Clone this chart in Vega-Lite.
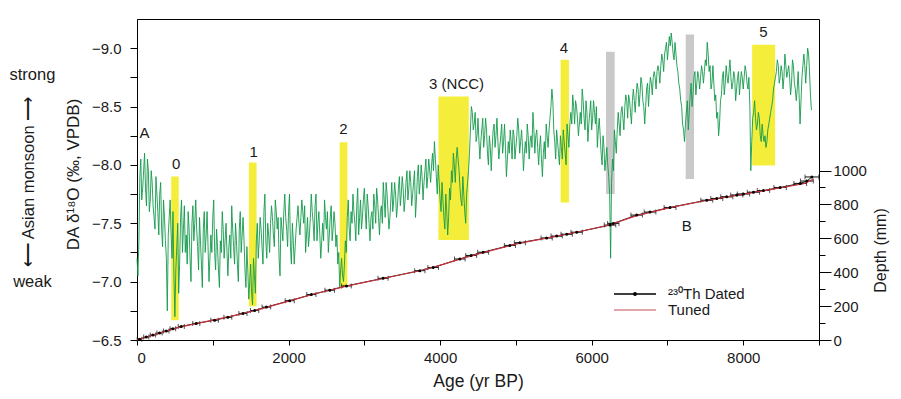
{
"$schema":"https://vega.github.io/schema/vega-lite/v6.json",
"width":682,"height":321,"autosize":"none",
"padding":{"left":137,"top":19,"right":82,"bottom":59},
"config":{"font":"Liberation Sans","view":{"stroke":"#000","strokeWidth":1},
"axis":{"domainColor":"#000","tickColor":"#000","labelColor":"#1a1a1a","titleColor":"#1a1a1a","labelFontSize":15,"titleFontWeight":"normal","grid":false}},
"datasets":{
"green":[
{"age":0,"d18O":-7.20},{"age":25,"d18O":-7.35},{"age":50,"d18O":-8.05},{"age":75,"d18O":-7.80},{"age":100,"d18O":-8.10},{"age":125,"d18O":-7.65},{"age":150,"d18O":-7.95},{"age":175,"d18O":-7.70},{"age":200,"d18O":-7.85},{"age":225,"d18O":-7.55},
{"age":250,"d18O":-7.90},{"age":275,"d18O":-7.60},{"age":300,"d18O":-7.75},{"age":325,"d18O":-7.45},{"age":350,"d18O":-7.70},{"age":375,"d18O":-7.35},{"age":400,"d18O":-6.75},{"age":425,"d18O":-7.55},{"age":450,"d18O":-7.40},{"age":475,"d18O":-7.60},
{"age":500,"d18O":-6.70},{"age":525,"d18O":-7.30},{"age":550,"d18O":-6.90},{"age":575,"d18O":-7.55},{"age":600,"d18O":-7.25},{"age":625,"d18O":-7.65},{"age":650,"d18O":-7.40},{"age":675,"d18O":-7.60},{"age":700,"d18O":-7.20},{"age":725,"d18O":-7.50},
{"age":750,"d18O":-7.35},{"age":775,"d18O":-7.70},{"age":800,"d18O":-7.30},{"age":825,"d18O":-7.55},{"age":850,"d18O":-7.15},{"age":875,"d18O":-7.45},{"age":900,"d18O":-7.25},{"age":925,"d18O":-7.60},{"age":950,"d18O":-7.00},{"age":975,"d18O":-7.40},
{"age":1000,"d18O":-7.55},{"age":1025,"d18O":-7.25},{"age":1050,"d18O":-7.45},{"age":1075,"d18O":-7.10},{"age":1100,"d18O":-7.35},{"age":1125,"d18O":-7.60},{"age":1150,"d18O":-7.20},{"age":1175,"d18O":-7.50},{"age":1200,"d18O":-7.05},{"age":1225,"d18O":-7.40},
{"age":1250,"d18O":-7.65},{"age":1275,"d18O":-7.30},{"age":1300,"d18O":-7.50},{"age":1325,"d18O":-7.15},{"age":1350,"d18O":-7.45},{"age":1375,"d18O":-7.25},{"age":1400,"d18O":-7.55},{"age":1425,"d18O":-7.10},{"age":1450,"d18O":-7.30},{"age":1475,"d18O":-6.85},
{"age":1500,"d18O":-7.15},{"age":1525,"d18O":-6.80},{"age":1550,"d18O":-7.05},{"age":1575,"d18O":-7.35},{"age":1600,"d18O":-7.20},{"age":1625,"d18O":-7.55},{"age":1650,"d18O":-7.30},{"age":1675,"d18O":-7.60},{"age":1700,"d18O":-7.35},{"age":1725,"d18O":-7.50},
{"age":1750,"d18O":-7.25},{"age":1775,"d18O":-7.65},{"age":1800,"d18O":-7.40},{"age":1825,"d18O":-7.70},{"age":1850,"d18O":-7.45},{"age":1875,"d18O":-7.20},{"age":1900,"d18O":-7.55},{"age":1925,"d18O":-7.35},{"age":1950,"d18O":-7.75},{"age":1975,"d18O":-7.45},
{"age":2000,"d18O":-7.60},{"age":2025,"d18O":-7.30},{"age":2050,"d18O":-7.50},{"age":2075,"d18O":-7.15},{"age":2100,"d18O":-7.45},{"age":2125,"d18O":-7.65},{"age":2150,"d18O":-7.40},{"age":2175,"d18O":-7.70},{"age":2200,"d18O":-7.50},{"age":2225,"d18O":-7.25},
{"age":2250,"d18O":-7.55},{"age":2275,"d18O":-7.40},{"age":2300,"d18O":-7.75},{"age":2325,"d18O":-7.50},{"age":2350,"d18O":-7.65},{"age":2375,"d18O":-7.35},{"age":2400,"d18O":-7.60},{"age":2425,"d18O":-7.20},{"age":2450,"d18O":-7.50},{"age":2475,"d18O":-7.70},
{"age":2500,"d18O":-7.45},{"age":2525,"d18O":-7.25},{"age":2550,"d18O":-7.55},{"age":2575,"d18O":-7.35},{"age":2600,"d18O":-7.60},{"age":2625,"d18O":-7.30},{"age":2650,"d18O":-7.15},{"age":2675,"d18O":-6.95},{"age":2700,"d18O":-7.20},{"age":2725,"d18O":-7.00},
{"age":2750,"d18O":-7.35},{"age":2775,"d18O":-7.55},{"age":2800,"d18O":-7.45},{"age":2825,"d18O":-7.60},{"age":2850,"d18O":-7.75},{"age":2875,"d18O":-7.50},{"age":2900,"d18O":-7.65},{"age":2925,"d18O":-7.40},{"age":2950,"d18O":-7.70},{"age":2975,"d18O":-7.55},
{"age":3000,"d18O":-7.80},{"age":3025,"d18O":-7.45},{"age":3050,"d18O":-7.65},{"age":3075,"d18O":-7.35},{"age":3100,"d18O":-7.60},{"age":3125,"d18O":-7.75},{"age":3150,"d18O":-7.50},{"age":3175,"d18O":-7.70},{"age":3200,"d18O":-7.40},{"age":3225,"d18O":-7.65},
{"age":3250,"d18O":-7.85},{"age":3275,"d18O":-7.55},{"age":3300,"d18O":-7.75},{"age":3325,"d18O":-7.45},{"age":3350,"d18O":-7.70},{"age":3375,"d18O":-7.60},{"age":3400,"d18O":-7.85},{"age":3425,"d18O":-7.55},{"age":3450,"d18O":-7.80},{"age":3475,"d18O":-7.65},
{"age":3500,"d18O":-7.90},{"age":3525,"d18O":-7.60},{"age":3550,"d18O":-7.85},{"age":3575,"d18O":-7.70},{"age":3600,"d18O":-7.95},{"age":3625,"d18O":-7.65},{"age":3650,"d18O":-7.85},{"age":3675,"d18O":-7.55},{"age":3700,"d18O":-7.90},{"age":3725,"d18O":-7.75},
{"age":3750,"d18O":-8.00},{"age":3775,"d18O":-7.70},{"age":3800,"d18O":-7.95},{"age":3825,"d18O":-7.80},{"age":3850,"d18O":-8.05},{"age":3875,"d18O":-7.85},{"age":3900,"d18O":-8.10},{"age":3925,"d18O":-8.20},{"age":3950,"d18O":-7.90},{"age":3975,"d18O":-8.00},
{"age":4000,"d18O":-7.70},{"age":4025,"d18O":-7.85},{"age":4050,"d18O":-7.55},{"age":4075,"d18O":-7.75},{"age":4100,"d18O":-7.40},{"age":4125,"d18O":-7.80},{"age":4150,"d18O":-7.95},{"age":4175,"d18O":-8.10},{"age":4200,"d18O":-7.85},{"age":4225,"d18O":-8.15},
{"age":4250,"d18O":-7.95},{"age":4275,"d18O":-7.70},{"age":4300,"d18O":-7.90},{"age":4325,"d18O":-7.60},{"age":4350,"d18O":-7.75},{"age":4375,"d18O":-7.95},{"age":4400,"d18O":-8.30},{"age":4425,"d18O":-8.45},{"age":4450,"d18O":-8.35},{"age":4475,"d18O":-8.20},
{"age":4500,"d18O":-8.40},{"age":4525,"d18O":-8.05},{"age":4550,"d18O":-8.30},{"age":4575,"d18O":-8.15},{"age":4600,"d18O":-8.40},{"age":4625,"d18O":-8.10},{"age":4650,"d18O":-8.25},{"age":4675,"d18O":-7.95},{"age":4700,"d18O":-8.30},{"age":4725,"d18O":-8.15},
{"age":4750,"d18O":-8.40},{"age":4775,"d18O":-8.05},{"age":4800,"d18O":-8.25},{"age":4825,"d18O":-8.10},{"age":4850,"d18O":-8.35},{"age":4875,"d18O":-7.90},{"age":4900,"d18O":-8.20},{"age":4925,"d18O":-8.30},{"age":4950,"d18O":-8.05},{"age":4975,"d18O":-8.25},
{"age":5000,"d18O":-8.15},{"age":5025,"d18O":-8.40},{"age":5050,"d18O":-8.10},{"age":5075,"d18O":-8.30},{"age":5100,"d18O":-7.95},{"age":5125,"d18O":-8.20},{"age":5150,"d18O":-8.35},{"age":5175,"d18O":-8.05},{"age":5200,"d18O":-8.25},{"age":5225,"d18O":-8.45},
{"age":5250,"d18O":-8.10},{"age":5275,"d18O":-8.30},{"age":5300,"d18O":-8.00},{"age":5325,"d18O":-8.25},{"age":5350,"d18O":-7.90},{"age":5375,"d18O":-8.20},{"age":5400,"d18O":-8.35},{"age":5425,"d18O":-8.15},{"age":5450,"d18O":-8.40},{"age":5475,"d18O":-8.65},
{"age":5500,"d18O":-8.30},{"age":5525,"d18O":-8.05},{"age":5550,"d18O":-8.20},{"age":5575,"d18O":-8.00},{"age":5600,"d18O":-8.15},{"age":5625,"d18O":-8.30},{"age":5650,"d18O":-8.10},{"age":5675,"d18O":-8.35},{"age":5700,"d18O":-8.15},{"age":5725,"d18O":-8.45},
{"age":5750,"d18O":-8.60},{"age":5775,"d18O":-8.35},{"age":5800,"d18O":-8.50},{"age":5825,"d18O":-8.25},{"age":5850,"d18O":-8.45},{"age":5875,"d18O":-8.65},{"age":5900,"d18O":-8.40},{"age":5925,"d18O":-8.55},{"age":5950,"d18O":-8.20},{"age":5975,"d18O":-8.45},
{"age":6000,"d18O":-8.30},{"age":6025,"d18O":-8.55},{"age":6050,"d18O":-8.35},{"age":6075,"d18O":-8.15},{"age":6100,"d18O":-8.40},{"age":6125,"d18O":-8.10},{"age":6150,"d18O":-8.25},{"age":6175,"d18O":-7.95},{"age":6200,"d18O":-8.15},{"age":6225,"d18O":-7.90},
{"age":6250,"d18O":-7.20},{"age":6275,"d18O":-8.05},{"age":6300,"d18O":-8.30},{"age":6325,"d18O":-8.10},{"age":6350,"d18O":-8.45},{"age":6375,"d18O":-8.25},{"age":6400,"d18O":-8.50},{"age":6425,"d18O":-8.30},{"age":6450,"d18O":-8.60},{"age":6475,"d18O":-8.40},
{"age":6500,"d18O":-8.55},{"age":6525,"d18O":-8.35},{"age":6550,"d18O":-8.65},{"age":6575,"d18O":-8.45},{"age":6600,"d18O":-8.70},{"age":6625,"d18O":-8.50},{"age":6650,"d18O":-8.75},{"age":6675,"d18O":-8.55},{"age":6700,"d18O":-8.35},{"age":6725,"d18O":-8.65},
{"age":6750,"d18O":-8.50},{"age":6775,"d18O":-8.75},{"age":6800,"d18O":-8.60},{"age":6825,"d18O":-8.80},{"age":6850,"d18O":-8.65},{"age":6875,"d18O":-8.85},{"age":6900,"d18O":-8.70},{"age":6925,"d18O":-8.95},{"age":6950,"d18O":-8.80},{"age":6975,"d18O":-9.00},
{"age":7000,"d18O":-8.90},{"age":7025,"d18O":-9.10},{"age":7050,"d18O":-9.13},{"age":7075,"d18O":-8.95},{"age":7100,"d18O":-9.05},{"age":7125,"d18O":-8.85},{"age":7150,"d18O":-8.70},{"age":7175,"d18O":-8.55},{"age":7200,"d18O":-8.35},{"age":7225,"d18O":-8.20},
{"age":7250,"d18O":-8.45},{"age":7275,"d18O":-8.30},{"age":7300,"d18O":-8.60},{"age":7325,"d18O":-8.50},{"age":7350,"d18O":-8.75},{"age":7375,"d18O":-8.60},{"age":7400,"d18O":-8.80},{"age":7425,"d18O":-8.65},{"age":7450,"d18O":-8.85},{"age":7475,"d18O":-8.70},
{"age":7500,"d18O":-8.90},{"age":7525,"d18O":-9.05},{"age":7550,"d18O":-8.80},{"age":7575,"d18O":-8.65},{"age":7600,"d18O":-8.85},{"age":7625,"d18O":-8.55},{"age":7650,"d18O":-8.40},{"age":7675,"d18O":-8.25},{"age":7700,"d18O":-8.55},{"age":7725,"d18O":-8.75},
{"age":7750,"d18O":-8.60},{"age":7775,"d18O":-8.85},{"age":7800,"d18O":-8.70},{"age":7825,"d18O":-8.90},{"age":7850,"d18O":-8.65},{"age":7875,"d18O":-8.80},{"age":7900,"d18O":-8.55},{"age":7925,"d18O":-8.75},{"age":7950,"d18O":-8.60},{"age":7975,"d18O":-8.80},
{"age":8000,"d18O":-8.65},{"age":8025,"d18O":-8.85},{"age":8050,"d18O":-8.70},{"age":8075,"d18O":-8.75},{"age":8100,"d18O":-7.95},{"age":8125,"d18O":-8.40},{"age":8150,"d18O":-8.55},{"age":8175,"d18O":-8.30},{"age":8200,"d18O":-8.45},{"age":8225,"d18O":-8.25},
{"age":8250,"d18O":-8.35},{"age":8275,"d18O":-8.20},{"age":8300,"d18O":-8.15},{"age":8325,"d18O":-8.30},{"age":8350,"d18O":-8.40},{"age":8375,"d18O":-8.50},{"age":8400,"d18O":-8.65},{"age":8425,"d18O":-8.75},{"age":8450,"d18O":-8.90},{"age":8475,"d18O":-8.70},
{"age":8500,"d18O":-8.85},{"age":8525,"d18O":-8.65},{"age":8550,"d18O":-8.95},{"age":8575,"d18O":-8.75},{"age":8600,"d18O":-8.85},{"age":8625,"d18O":-8.60},{"age":8650,"d18O":-8.90},{"age":8675,"d18O":-8.70},{"age":8700,"d18O":-8.55},{"age":8725,"d18O":-8.80},
{"age":8750,"d18O":-8.35},{"age":8775,"d18O":-8.75},{"age":8800,"d18O":-8.95},{"age":8825,"d18O":-8.70},{"age":8850,"d18O":-9.00},{"age":8875,"d18O":-8.80},{"age":8900,"d18O":-8.47},
{"age":12.5,"d18O":-7.05},{"age":37.5,"d18O":-7.90},{"age":62.5,"d18O":-7.70},{"age":87.5,"d18O":-7.95},{"age":112.5,"d18O":-7.80},{"age":137.5,"d18O":-8.05},{"age":162.5,"d18O":-7.60},{"age":187.5,"d18O":-7.95},{"age":212.5,"d18O":-7.65},{"age":237.5,"d18O":-7.45},
{"age":262.5,"d18O":-7.75},{"age":287.5,"d18O":-7.40},{"age":312.5,"d18O":-7.85},{"age":337.5,"d18O":-7.30},{"age":362.5,"d18O":-7.55},{"age":387.5,"d18O":-7.20},{"age":412.5,"d18O":-7.40},{"age":437.5,"d18O":-7.70},{"age":462.5,"d18O":-7.20},{"age":487.5,"d18O":-7.05},
{"age":512.5,"d18O":-7.10},{"age":537.5,"d18O":-7.50},{"age":562.5,"d18O":-7.15},{"age":587.5,"d18O":-7.70},{"age":612.5,"d18O":-7.45},{"age":637.5,"d18O":-7.25},{"age":662.5,"d18O":-7.15},{"age":687.5,"d18O":-7.45},{"age":712.5,"d18O":-7.00},{"age":737.5,"d18O":-7.65},
{"age":762.5,"d18O":-7.50},{"age":787.5,"d18O":-7.45},{"age":812.5,"d18O":-7.10},{"age":837.5,"d18O":-7.35},{"age":862.5,"d18O":-6.95},{"age":887.5,"d18O":-7.60},{"age":912.5,"d18O":-7.40},{"age":937.5,"d18O":-7.30},{"age":962.5,"d18O":-7.20},{"age":987.5,"d18O":-7.25},
{"age":1012.5,"d18O":-7.70},{"age":1037.5,"d18O":-7.10},{"age":1062.5,"d18O":-7.30},{"age":1087.5,"d18O":-6.95},{"age":1112.5,"d18O":-7.25},{"age":1137.5,"d18O":-7.45},{"age":1162.5,"d18O":-7.35},{"age":1187.5,"d18O":-7.25},{"age":1212.5,"d18O":-7.30},{"age":1237.5,"d18O":-7.20},
{"age":1262.5,"d18O":-7.45},{"age":1287.5,"d18O":-7.15},{"age":1312.5,"d18O":-7.35},{"age":1337.5,"d18O":-7.00},{"age":1362.5,"d18O":-7.60},{"age":1387.5,"d18O":-7.40},{"age":1412.5,"d18O":-7.35},{"age":1437.5,"d18O":-6.95},{"age":1462.5,"d18O":-7.10},{"age":1487.5,"d18O":-7.00},
{"age":1512.5,"d18O":-6.90},{"age":1537.5,"d18O":-7.20},{"age":1562.5,"d18O":-6.90},{"age":1587.5,"d18O":-7.50},{"age":1612.5,"d18O":-7.35},{"age":1637.5,"d18O":-7.45},{"age":1662.5,"d18O":-7.15},{"age":1687.5,"d18O":-7.75},{"age":1712.5,"d18O":-7.20},{"age":1737.5,"d18O":-7.40},
{"age":1762.5,"d18O":-7.50},{"age":1787.5,"d18O":-7.55},{"age":1812.5,"d18O":-7.30},{"age":1837.5,"d18O":-7.60},{"age":1862.5,"d18O":-7.55},{"age":1887.5,"d18O":-7.05},{"age":1912.5,"d18O":-7.45},{"age":1937.5,"d18O":-7.60},{"age":1962.5,"d18O":-7.55},{"age":1987.5,"d18O":-7.30},
{"age":2012.5,"d18O":-7.75},{"age":2037.5,"d18O":-7.15},{"age":2062.5,"d18O":-7.35},{"age":2087.5,"d18O":-7.30},{"age":2112.5,"d18O":-7.55},{"age":2137.5,"d18O":-7.50},{"age":2162.5,"d18O":-7.55},{"age":2187.5,"d18O":-7.60},{"age":2212.5,"d18O":-7.65},{"age":2237.5,"d18O":-7.40},
{"age":2262.5,"d18O":-7.30},{"age":2287.5,"d18O":-7.55},{"age":2312.5,"d18O":-7.60},{"age":2337.5,"d18O":-7.35},{"age":2362.5,"d18O":-7.75},{"age":2387.5,"d18O":-7.50},{"age":2412.5,"d18O":-7.40},{"age":2437.5,"d18O":-7.35},{"age":2462.5,"d18O":-7.35},{"age":2487.5,"d18O":-7.55},
{"age":2512.5,"d18O":-7.60},{"age":2537.5,"d18O":-7.40},{"age":2562.5,"d18O":-7.65},{"age":2587.5,"d18O":-7.45},{"age":2612.5,"d18O":-7.50},{"age":2637.5,"d18O":-7.40},{"age":2662.5,"d18O":-7.25},{"age":2687.5,"d18O":-7.10},{"age":2712.5,"d18O":-7.05},{"age":2737.5,"d18O":-7.15},
{"age":2762.5,"d18O":-7.25},{"age":2787.5,"d18O":-7.70},{"age":2812.5,"d18O":-7.35},{"age":2837.5,"d18O":-7.50},{"age":2862.5,"d18O":-7.60},{"age":2887.5,"d18O":-7.35},{"age":2912.5,"d18O":-7.80},{"age":2937.5,"d18O":-7.55},{"age":2962.5,"d18O":-7.45},{"age":2987.5,"d18O":-7.70},
{"age":3012.5,"d18O":-7.60},{"age":3037.5,"d18O":-7.75},{"age":3062.5,"d18O":-7.50},{"age":3087.5,"d18O":-7.55},{"age":3112.5,"d18O":-7.45},{"age":3137.5,"d18O":-7.65},{"age":3162.5,"d18O":-7.80},{"age":3187.5,"d18O":-7.55},{"age":3212.5,"d18O":-7.60},{"age":3237.5,"d18O":-7.50},
{"age":3262.5,"d18O":-7.70},{"age":3287.5,"d18O":-7.85},{"age":3312.5,"d18O":-7.60},{"age":3337.5,"d18O":-7.55},{"age":3362.5,"d18O":-7.85},{"age":3387.5,"d18O":-7.70},{"age":3412.5,"d18O":-7.75},{"age":3437.5,"d18O":-7.65},{"age":3462.5,"d18O":-7.90},{"age":3487.5,"d18O":-7.75},
{"age":3512.5,"d18O":-7.80},{"age":3537.5,"d18O":-7.70},{"age":3562.5,"d18O":-7.95},{"age":3587.5,"d18O":-7.80},{"age":3612.5,"d18O":-7.85},{"age":3637.5,"d18O":-7.75},{"age":3662.5,"d18O":-7.95},{"age":3687.5,"d18O":-7.70},{"age":3712.5,"d18O":-8.00},{"age":3737.5,"d18O":-7.85},
{"age":3762.5,"d18O":-7.90},{"age":3787.5,"d18O":-7.85},{"age":3812.5,"d18O":-8.05},{"age":3837.5,"d18O":-7.90},{"age":3862.5,"d18O":-7.95},{"age":3887.5,"d18O":-8.00},{"age":3912.5,"d18O":-7.95},{"age":3937.5,"d18O":-8.05},{"age":3962.5,"d18O":-7.75},{"age":3987.5,"d18O":-7.85},
{"age":4012.5,"d18O":-7.60},{"age":4037.5,"d18O":-7.70},{"age":4062.5,"d18O":-7.45},{"age":4087.5,"d18O":-7.60},{"age":4112.5,"d18O":-7.55},{"age":4137.5,"d18O":-7.70},{"age":4162.5,"d18O":-7.85},{"age":4187.5,"d18O":-8.00},{"age":4212.5,"d18O":-8.05},{"age":4237.5,"d18O":-8.05},
{"age":4262.5,"d18O":-7.80},{"age":4287.5,"d18O":-7.65},{"age":4312.5,"d18O":-7.75},{"age":4337.5,"d18O":-7.50},{"age":4362.5,"d18O":-7.85},{"age":4387.5,"d18O":-8.10},{"age":4412.5,"d18O":-8.50},{"age":4437.5,"d18O":-8.30},{"age":4462.5,"d18O":-8.45},{"age":4487.5,"d18O":-8.25},
{"age":4512.5,"d18O":-8.20},{"age":4537.5,"d18O":-8.20},{"age":4562.5,"d18O":-8.40},{"age":4587.5,"d18O":-8.25},{"age":4612.5,"d18O":-8.30},{"age":4637.5,"d18O":-8.00},{"age":4662.5,"d18O":-8.15},{"age":4687.5,"d18O":-8.15},{"age":4712.5,"d18O":-8.35},{"age":4737.5,"d18O":-8.25},
{"age":4762.5,"d18O":-8.20},{"age":4787.5,"d18O":-8.15},{"age":4812.5,"d18O":-8.35},{"age":4837.5,"d18O":-8.20},{"age":4862.5,"d18O":-8.15},{"age":4887.5,"d18O":-8.05},{"age":4912.5,"d18O":-8.10},{"age":4937.5,"d18O":-8.20},{"age":4962.5,"d18O":-8.30},{"age":4987.5,"d18O":-8.05},
{"age":5012.5,"d18O":-8.25},{"age":5037.5,"d18O":-8.30},{"age":5062.5,"d18O":-8.20},{"age":5087.5,"d18O":-8.15},{"age":5112.5,"d18O":-8.10},{"age":5137.5,"d18O":-8.10},{"age":5162.5,"d18O":-8.25},{"age":5187.5,"d18O":-8.20},{"age":5212.5,"d18O":-8.15},{"age":5237.5,"d18O":-8.30},
{"age":5262.5,"d18O":-8.25},{"age":5287.5,"d18O":-8.15},{"age":5312.5,"d18O":-8.15},{"age":5337.5,"d18O":-8.05},{"age":5362.5,"d18O":-8.10},{"age":5387.5,"d18O":-8.05},{"age":5412.5,"d18O":-8.25},{"age":5437.5,"d18O":-8.30},{"age":5462.5,"d18O":-8.50},{"age":5487.5,"d18O":-8.55},
{"age":5512.5,"d18O":-8.20},{"age":5537.5,"d18O":-8.30},{"age":5562.5,"d18O":-8.10},{"age":5587.5,"d18O":-8.25},{"age":5612.5,"d18O":-8.05},{"age":5637.5,"d18O":-8.20},{"age":5662.5,"d18O":-8.00},{"age":5687.5,"d18O":-8.25},{"age":5712.5,"d18O":-8.35},{"age":5737.5,"d18O":-8.35},
{"age":5762.5,"d18O":-8.50},{"age":5787.5,"d18O":-8.55},{"age":5812.5,"d18O":-8.40},{"age":5837.5,"d18O":-8.35},{"age":5862.5,"d18O":-8.35},{"age":5887.5,"d18O":-8.55},{"age":5912.5,"d18O":-8.30},{"age":5937.5,"d18O":-8.45},{"age":5962.5,"d18O":-8.35},{"age":5987.5,"d18O":-8.55},
{"age":6012.5,"d18O":-8.40},{"age":6037.5,"d18O":-8.45},{"age":6062.5,"d18O":-8.50},{"age":6087.5,"d18O":-8.30},{"age":6112.5,"d18O":-8.25},{"age":6137.5,"d18O":-8.00},{"age":6162.5,"d18O":-8.15},{"age":6187.5,"d18O":-8.05},{"age":6212.5,"d18O":-8.00},{"age":6237.5,"d18O":-7.75},
{"age":6262.5,"d18O":-7.85},{"age":6287.5,"d18O":-7.95},{"age":6312.5,"d18O":-8.20},{"age":6337.5,"d18O":-8.30},{"age":6362.5,"d18O":-8.35},{"age":6387.5,"d18O":-8.45},{"age":6412.5,"d18O":-8.40},{"age":6437.5,"d18O":-8.50},{"age":6462.5,"d18O":-8.55},{"age":6487.5,"d18O":-8.60},
{"age":6512.5,"d18O":-8.45},{"age":6537.5,"d18O":-8.55},{"age":6562.5,"d18O":-8.55},{"age":6587.5,"d18O":-8.60},{"age":6612.5,"d18O":-8.65},{"age":6637.5,"d18O":-8.60},{"age":6662.5,"d18O":-8.70},{"age":6687.5,"d18O":-8.50},{"age":6712.5,"d18O":-8.50},{"age":6737.5,"d18O":-8.70},
{"age":6762.5,"d18O":-8.65},{"age":6787.5,"d18O":-8.70},{"age":6812.5,"d18O":-8.75},{"age":6837.5,"d18O":-8.75},{"age":6862.5,"d18O":-8.80},{"age":6887.5,"d18O":-8.80},{"age":6912.5,"d18O":-8.85},{"age":6937.5,"d18O":-8.90},{"age":6962.5,"d18O":-8.95},{"age":6987.5,"d18O":-9.05},
{"age":7012.5,"d18O":-9.00},{"age":7037.5,"d18O":-9.02},{"age":7062.5,"d18O":-9.05},{"age":7087.5,"d18O":-8.90},{"age":7112.5,"d18O":-8.95},{"age":7137.5,"d18O":-8.80},{"age":7162.5,"d18O":-8.65},{"age":7187.5,"d18O":-8.50},{"age":7212.5,"d18O":-8.30},{"age":7237.5,"d18O":-8.35},
{"age":7262.5,"d18O":-8.55},{"age":7287.5,"d18O":-8.45},{"age":7312.5,"d18O":-8.70},{"age":7337.5,"d18O":-8.60},{"age":7362.5,"d18O":-8.80},{"age":7387.5,"d18O":-8.70},{"age":7412.5,"d18O":-8.75},{"age":7437.5,"d18O":-8.75},{"age":7462.5,"d18O":-8.80},{"age":7487.5,"d18O":-8.80},
{"age":7512.5,"d18O":-8.85},{"age":7537.5,"d18O":-8.95},{"age":7562.5,"d18O":-8.85},{"age":7587.5,"d18O":-8.70},{"age":7612.5,"d18O":-8.70},{"age":7637.5,"d18O":-8.60},{"age":7662.5,"d18O":-8.45},{"age":7687.5,"d18O":-8.35},{"age":7712.5,"d18O":-8.60},{"age":7737.5,"d18O":-8.80},
{"age":7762.5,"d18O":-8.70},{"age":7787.5,"d18O":-8.75},{"age":7812.5,"d18O":-8.80},{"age":7837.5,"d18O":-8.75},{"age":7862.5,"d18O":-8.70},{"age":7887.5,"d18O":-8.75},{"age":7912.5,"d18O":-8.65},{"age":7937.5,"d18O":-8.80},{"age":7962.5,"d18O":-8.70},{"age":7987.5,"d18O":-8.75},
{"age":8012.5,"d18O":-8.75},{"age":8037.5,"d18O":-8.80},{"age":8062.5,"d18O":-8.65},{"age":8087.5,"d18O":-8.50},{"age":8112.5,"d18O":-8.20},{"age":8137.5,"d18O":-8.45},{"age":8162.5,"d18O":-8.40},{"age":8187.5,"d18O":-8.35},{"age":8212.5,"d18O":-8.40},{"age":8237.5,"d18O":-8.20},
{"age":8262.5,"d18O":-8.25},{"age":8287.5,"d18O":-8.25},{"age":8312.5,"d18O":-8.20},{"age":8337.5,"d18O":-8.35},{"age":8362.5,"d18O":-8.45},{"age":8387.5,"d18O":-8.55},{"age":8412.5,"d18O":-8.70},{"age":8437.5,"d18O":-8.80},{"age":8462.5,"d18O":-8.85},{"age":8487.5,"d18O":-8.75},
{"age":8512.5,"d18O":-8.80},{"age":8537.5,"d18O":-8.75},{"age":8562.5,"d18O":-8.85},{"age":8587.5,"d18O":-8.80},{"age":8612.5,"d18O":-8.75},{"age":8637.5,"d18O":-8.70},{"age":8662.5,"d18O":-8.85},{"age":8687.5,"d18O":-8.65},{"age":8712.5,"d18O":-8.65},{"age":8737.5,"d18O":-8.60},
{"age":8762.5,"d18O":-8.55},{"age":8787.5,"d18O":-8.85},{"age":8812.5,"d18O":-8.85},{"age":8837.5,"d18O":-8.85},{"age":8862.5,"d18O":-8.95},{"age":8887.5,"d18O":-8.60}
],
"bars":[
{"kind":"event","x0":452,"x1":551,"top":-7.90,"bot":-6.67},
{"kind":"event","x0":1476,"x1":1578,"top":-8.02,"bot":-6.79},
{"kind":"event","x0":2675,"x1":2776,"top":-8.195,"bot":-6.96},
{"kind":"event","x0":3978,"x1":4379,"top":-8.585,"bot":-7.357},
{"kind":"event","x0":5590,"x1":5700,"top":-8.90,"bot":-7.677},
{"kind":"grey","x0":6189,"x1":6304,"top":-8.97,"bot":-7.75},
{"kind":"grey","x0":7241,"x1":7351,"top":-9.117,"bot":-7.88},
{"kind":"event","x0":8118,"x1":8421,"top":-9.03,"bot":-7.994}
],
"labels":[
{"text":"A","age":99,"d18O":-8.27},
{"text":"0","age":518,"d18O":-8.01},
{"text":"1","age":1539,"d18O":-8.11},
{"text":"2","age":2724,"d18O":-8.31},
{"text":"3 (NCC)","age":4217,"d18O":-8.69},
{"text":"4","age":5634,"d18O":-9.005},
{"text":"5","age":8267,"d18O":-9.14},
{"text":"B","age":7255,"d18O":-7.48}
],
"side":[
{"text":"strong","age":-1380,"d18O":-8.77},
{"text":"weak","age":-1380,"d18O":-7.00}
],
"monsoon":[{"text":"⟵ Asian monsoon ⟶","age":-1420,"d18O":-7.855}],
"dated":[
{"age":33,"lo":3,"hi":63,"depth":5},{"age":122,"lo":88,"hi":156,"depth":17},{"age":209,"lo":175,"hi":243,"depth":29},{"age":297,"lo":262,"hi":332,"depth":41},{"age":386,"lo":350,"hi":422,"depth":53},{"age":473,"lo":436,"hi":510,"depth":66},{"age":584,"lo":544,"hi":624,"depth":80},{"age":782,"lo":735,"hi":829,"depth":98},{"age":1024,"lo":974,"hi":1074,"depth":117},{"age":1199,"lo":1147,"hi":1251,"depth":134},{"age":1398,"lo":1344,"hi":1452,"depth":157},{"age":1552,"lo":1497,"hi":1607,"depth":174},{"age":1707,"lo":1650,"hi":1764,"depth":194},{"age":2015,"lo":1955,"hi":2075,"depth":232},{"age":2301,"lo":2240,"hi":2362,"depth":268},{"age":2543,"lo":2480,"hi":2606,"depth":294},{"age":2764,"lo":2700,"hi":2828,"depth":319},{"age":3247,"lo":3180,"hi":3314,"depth":364},{"age":3732,"lo":3664,"hi":3800,"depth":409},{"age":3908,"lo":3838,"hi":3978,"depth":428},{"age":4260,"lo":4190,"hi":4330,"depth":478},{"age":4410,"lo":4338,"hi":4482,"depth":499},{"age":4568,"lo":4496,"hi":4640,"depth":518},{"age":4921,"lo":4848,"hi":4994,"depth":558},{"age":5053,"lo":4980,"hi":5126,"depth":574},{"age":5406,"lo":5332,"hi":5480,"depth":602},{"age":5538,"lo":5464,"hi":5612,"depth":613},{"age":5670,"lo":5595,"hi":5745,"depth":624},{"age":5802,"lo":5727,"hi":5877,"depth":636},{"age":6242,"lo":6166,"hi":6318,"depth":678},{"age":6285,"lo":6210,"hi":6360,"depth":688},{"age":6594,"lo":6518,"hi":6670,"depth":737},{"age":6770,"lo":6693,"hi":6847,"depth":755},{"age":7034,"lo":6956,"hi":7112,"depth":782},{"age":7519,"lo":7440,"hi":7598,"depth":825},{"age":7651,"lo":7572,"hi":7730,"depth":835},{"age":7783,"lo":7703,"hi":7863,"depth":845},{"age":7915,"lo":7835,"hi":7995,"depth":855},{"age":8003,"lo":7922,"hi":8084,"depth":862},{"age":8135,"lo":8054,"hi":8216,"depth":872},{"age":8267,"lo":8185,"hi":8349,"depth":882},{"age":8487,"lo":8405,"hi":8569,"depth":900},{"age":8752,"lo":8668,"hi":8836,"depth":924},{"age":8840,"lo":8755,"hi":8925,"depth":938},{"age":8906,"lo":8815,"hi":8997,"depth":962}
],
"tuned":[
{"age":0,"depth":0},{"age":561,"depth":76},{"age":1222,"depth":138},{"age":1575,"depth":176},{"age":2015,"depth":231},{"age":2322,"depth":270},{"age":2764,"depth":318},{"age":3247,"depth":363},{"age":3775,"depth":413},{"age":4040,"depth":446},{"age":4260,"depth":477},{"age":4481,"depth":505},{"age":5053,"depth":572},{"age":5493,"depth":608},{"age":5845,"depth":640},{"age":6242,"depth":680},{"age":6594,"depth":734},{"age":7034,"depth":781},{"age":7474,"depth":820},{"age":7915,"depth":853},{"age":8355,"depth":887},{"age":8795,"depth":922},{"age":8920,"depth":948}
]
},
"encoding":{
"x":{"field":"age","type":"quantitative","scale":{"domain":[0,9000],"nice":false,"zero":false},
"axis":{"title":"Age (yr BP)","values":[0,1000,2000,3000,4000,5000,6000,7000,8000,9000],"labelExpr":"datum.value % 2000 == 0 ? format(datum.value,'d') : ''","tickSize":5,"labelPadding":5,"titleFontSize":17.5,"titleY":41,"titleBaseline":"middle"}}
},
"layer":[
{
"encoding":{"y":{"field":"d18O","type":"quantitative","scale":{"domain":[-9.25,-6.5],"reverse":true,"nice":false,"zero":false},
"axis":{"orient":"left","title":"DA δ¹⁸O (‰, VPDB)","values":[-9,-8.75,-8.5,-8.25,-8,-7.75,-7.5,-7.25,-7,-6.75,-6.5],"labelExpr":"(datum.value*4) % 2 == 0 ? format(datum.value,'.1f') : ''","tickSize":7,"labelPadding":9,"titleFontSize":17,"titleAngle":270,"titleX":-64,"titleY":155,"titleAlign":"center","titleBaseline":"middle"}}},
"layer":[
{"data":{"name":"bars"},"transform":[{"filter":"datum.kind == 'event'"}],"mark":{"type":"rect","color":"#f4ee3a"},
"encoding":{"x":{"field":"x0","type":"quantitative"},"x2":{"field":"x1"},"y":{"field":"top","type":"quantitative"},"y2":{"field":"bot"}}},
{"data":{"name":"bars"},"transform":[{"filter":"datum.kind == 'grey'"}],"mark":{"type":"rect","color":"#c9c9c9"},
"encoding":{"x":{"field":"x0","type":"quantitative"},"x2":{"field":"x1"},"y":{"field":"top","type":"quantitative"},"y2":{"field":"bot"}}},
{"data":{"name":"green"},"mark":{"type":"line","color":"#139a4b","strokeWidth":0.9},"encoding":{}},
{"data":{"name":"labels"},"mark":{"type":"text","fontSize":15,"color":"#1a1a1a","baseline":"middle"},"encoding":{"text":{"field":"text"}}},
{"data":{"name":"side"},"mark":{"type":"text","fontSize":16.5,"color":"#1a1a1a","baseline":"middle"},"encoding":{"text":{"field":"text"}}},
{"data":{"name":"monsoon"},"mark":{"type":"text","fontSize":16.5,"color":"#1a1a1a","baseline":"middle","angle":270},"encoding":{"text":{"field":"text"}}}
]
},
{
"encoding":{"y":{"field":"depth","type":"quantitative","scale":{"domain":[0,1894],"nice":false},
"axis":{"orient":"right","title":"Depth (mm)","domain":false,"values":[0,100,200,300,400,500,600,700,800,900,1000],"labelExpr":"datum.value % 200 == 0 ? format(datum.value,'d') : ''","tickSize":{"condition":{"test":"datum.value % 200 == 0","value":12},"value":6},"labelPadding":2,"titleFontSize":16,"titleAngle":270,"titleX":61,"titleY":231,"titleAlign":"center","titleBaseline":"middle"}}},
"layer":[
{"data":{"name":"dated"},"mark":{"type":"errorbar","ticks":true,"color":"#111"},"encoding":{"x":{"field":"lo","type":"quantitative"},"x2":{"field":"hi"}}},
{"data":{"name":"dated"},"mark":{"type":"line","color":"#111","strokeWidth":1},"encoding":{}},
{"data":{"name":"tuned"},"mark":{"type":"line","color":"#c8323c","strokeWidth":1.2},"encoding":{}},
{"data":{"name":"dated"},"mark":{"type":"point","filled":true,"size":9,"color":"#000","opacity":1},"encoding":{}},
{"data":{"name":"dated"},"mark":{"type":"point","opacity":0},
"encoding":{
"color":{"datum":"²³⁰Th Dated","type":"nominal","scale":{"domain":["²³⁰Th Dated","Tuned"],"range":["#000000","#d98790"]},
"legend":{"orient":"none","legendX":490,"legendY":267,"title":null,"symbolSize":196,"symbolStrokeWidth":1.5,"symbolOpacity":1,"labelFontSize":15,"labelColor":"#1a1a1a","rowPadding":0,"labelOffset":25}},
"shape":{"datum":"²³⁰Th Dated","type":"nominal","scale":{"domain":["²³⁰Th Dated","Tuned"],"range":["M-3,0L3,0M-0.18,0A0.18,0.18,0,1,0,0.18,0A0.18,0.18,0,1,0,-0.18,0","M-3,0L3,0"]},
"legend":{"orient":"none","legendX":490,"legendY":267,"title":null,"symbolSize":196,"symbolStrokeWidth":1.5,"symbolOpacity":1,"labelFontSize":15,"labelColor":"#1a1a1a","rowPadding":0,"labelOffset":25}}
}}
]
}
],
"resolve":{"scale":{"y":"independent"}}
}
